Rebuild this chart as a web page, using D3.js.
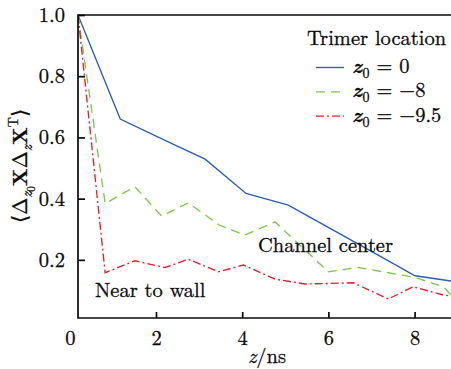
<!DOCTYPE html>
<html>
<head>
<meta charset="utf-8">
<script src="https://cdn.jsdelivr.net/npm/d3@7"></script>
<style>
  body { margin: 0; background: #fff; }
  svg { display: block; }
</style>
</head>
<body>
<svg id="chart" width="451" height="369"></svg>
<script>
// Correlation decay vs. lag time for three trimer positions
const centerT = [0.19, 1.17, 2.32, 3.14, 4.09, 5.07, 6.05, 7.03, 8.01, 8.845];
const centerV = [1.0, 0.66, 0.583, 0.529, 0.417, 0.379, 0.302, 0.225, 0.148, 0.131];

const midT = [0.19, 0.82, 1.51, 2.13, 2.75, 3.48, 4.06, 4.76, 6.0, 6.69, 8.0, 8.67, 8.845];
const midV = [1.0, 0.384, 0.439, 0.343, 0.386, 0.313, 0.281, 0.324, 0.161, 0.175, 0.143, 0.112, 0.085];

const wallT = [0.19, 0.82, 1.51, 2.21, 2.75, 3.45, 4.03, 4.76, 5.46, 6.58, 7.39, 7.97, 8.67, 8.845];
const wallV = [1.0, 0.158, 0.197, 0.175, 0.202, 0.161, 0.183, 0.137, 0.121, 0.125, 0.072, 0.112, 0.085, 0.082];

const xTicks = [0, 2, 4, 6, 8];
const yTicks = [0.2, 0.4, 0.6, 0.8, 1.0];
const legendTitle = "Trimer location";
const legendValues = ["0", "\u22128", "\u22129.5"];

const series = [
  { t: centerT, v: centerV, color: "#2b5cb4", dash: null },
  { t: midT, v: midV, color: "#7cc94a", dash: "9,6" },
  { t: wallT, v: wallV, color: "#e21f2c", dash: "8,3,2,3" }
];

const FONT = "'Latin Modern Roman', 'Liberation Serif', serif";
const FS = 20.5;
const INK = "#0a0a0a";

const svg = d3.select("#chart");
const plotL = 78, plotR = 451, plotT = 15, plotB = 318;

const x = d3.scaleLinear().domain([0.19, 8.845]).range([plotL, plotR]);
const y = d3.scaleLinear().domain([0.01, 1.0]).range([plotB, plotT]);

function label(sel, size) {
  return sel.style("font-family", FONT).style("font-size", (size || FS) + "px")
    .style("fill", INK).style("stroke", INK).style("stroke-width", "0.3px");
}

svg.append("defs").append("clipPath").attr("id", "plotClip")
  .append("rect").attr("x", plotL).attr("y", plotT - 2)
  .attr("width", plotR - plotL).attr("height", plotB - plotT + 2);

// data lines
const line = d3.line().x(d => x(d[0])).y(d => y(d[1]));
const plot = svg.append("g").attr("clip-path", "url(#plotClip)");
series.forEach(s => {
  plot.append("path")
    .datum(s.t.map((t, i) => [t, s.v[i]]))
    .attr("d", line)
    .attr("fill", "none")
    .attr("stroke", s.color)
    .attr("stroke-width", 1.35)
    .attr("stroke-dasharray", s.dash);
});

// frame: top, left, bottom
svg.append("path").attr("d", `M${plotR},${plotT}H${plotL}V${plotB}H${plotR}`)
  .attr("fill", "none").attr("stroke", INK).attr("stroke-width", 1.7);

// y axis (ticks inward)
const yAxis = d3.axisLeft(y).tickValues(yTicks).tickFormat(d3.format(".1f"))
  .tickSizeInner(-7).tickSizeOuter(0).tickPadding(13);
const gy = svg.append("g").attr("transform", `translate(${plotL},0)`).call(yAxis);
gy.select(".domain").remove();
gy.selectAll(".tick line").attr("stroke", INK).attr("stroke-width", 1.7);
label(gy.selectAll(".tick text"));

// x axis (ticks inward)
const xAxis = d3.axisBottom(x).tickValues(xTicks).tickFormat(d3.format("d"))
  .tickSizeInner(-6).tickSizeOuter(0).tickPadding(12);
const gx = svg.append("g").attr("transform", `translate(0,${plotB})`).call(xAxis);
gx.select(".domain").remove();
gx.selectAll(".tick line").attr("stroke", INK).attr("stroke-width", 1.7)
  .attr("display", d => d === 0 ? "none" : null);
label(gx.selectAll(".tick text"));

// x axis title
const xt = label(svg.append("text")).attr("x", 267).attr("y", 363).attr("text-anchor", "middle");
xt.append("tspan").style("font-style", "italic").text("z");
xt.append("tspan").text("/ns");

// y axis title
const yt = label(svg.append("text")).attr("transform", "translate(27,166) rotate(-90)")
  .attr("text-anchor", "middle");
yt.append("tspan").text("\u27E8\u0394");
yt.append("tspan").style("font-style", "italic").style("font-size", "15px").attr("dy", 5).text("z");
yt.append("tspan").style("font-size", "11px").attr("dy", 3).text("0");
yt.append("tspan").style("font-weight", "bold").attr("dy", -8).text("X");
yt.append("tspan").text("\u0394");
yt.append("tspan").style("font-style", "italic").style("font-size", "15px").attr("dy", 5).text("z");
yt.append("tspan").style("font-weight", "bold").attr("dy", -5).text("X");
yt.append("tspan").style("font-size", "14px").attr("dy", -9).text("T");
yt.append("tspan").attr("dy", 9).text("\u27E9");

// annotations
label(svg.append("text")).attr("x", 258).attr("y", 252).text("Channel center");
label(svg.append("text")).attr("x", 95).attr("y", 297).text("Near to wall");

// legend
const lg = svg.append("g");
label(lg.append("text")).attr("x", 307).attr("y", 45).text(legendTitle);
series.forEach((s, i) => {
  const by = 73 + i * 24.3;
  lg.append("line").attr("x1", 316).attr("x2", 344).attr("y1", by - 5.5).attr("y2", by - 5.5)
    .attr("stroke", s.color).attr("stroke-width", 1.35)
    .attr("stroke-dasharray", s.dash);
  const t = label(lg.append("text")).attr("x", 352).attr("y", by);
  t.append("tspan").style("font-style", "italic").style("font-weight", "bold").text("z");
  t.append("tspan").style("font-size", "14px").attr("dx", 0.5).attr("dy", 5).text("0");
  t.append("tspan").attr("dy", -5).text(" = " + legendValues[i]);
});
</script>
</body>
</html>
